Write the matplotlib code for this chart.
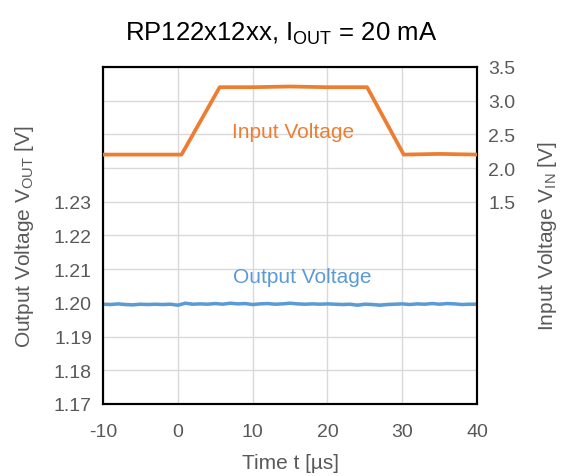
import matplotlib
matplotlib.use("Agg")
import matplotlib.pyplot as plt
import numpy as np

plt.rcParams['font.family'] = ['Liberation Sans', 'DejaVu Sans']
plt.rcParams['mathtext.fontset'] = 'custom'
plt.rcParams['mathtext.rm'] = 'Liberation Sans'
plt.rcParams['mathtext.it'] = 'Liberation Sans:italic'
plt.rcParams['mathtext.default'] = 'regular'

# Input voltage (right axis)
t_in = [-10, -5, 0.5, 5.6, 10, 15, 20, 25.3, 30.2, 35, 40]
v_in = [2.20, 2.20, 2.20, 3.20, 3.20, 3.21, 3.20, 3.20, 2.20, 2.21, 2.20]

# Output voltage (left axis)
t_out = [-10, -9, -8, -7, -6, -5, -4, -3, -2, -1, 0, 1, 2, 3, 4, 5, 6, 7, 8, 9,
         10, 11, 12, 13, 14, 15, 16, 17, 18, 19, 20, 21, 22, 23, 24, 25, 26, 27,
         28, 29, 30, 31, 32, 33, 34, 35, 36, 37, 38, 39, 40]
v_out = [1.1996, 1.1995, 1.1997, 1.1995, 1.1994, 1.1996, 1.1995, 1.1996, 1.1995, 1.1996,
         1.1993, 1.1999, 1.1996, 1.1997, 1.1996, 1.1998, 1.1996, 1.1999, 1.1997, 1.1998,
         1.1995, 1.1997, 1.1998, 1.1996, 1.1997, 1.1999, 1.1997, 1.1996, 1.1997, 1.1996,
         1.1997, 1.1996, 1.1995, 1.1996, 1.1993, 1.1996, 1.1995, 1.1993, 1.1995, 1.1996,
         1.1997, 1.1995, 1.1997, 1.1996, 1.1998, 1.1996, 1.1998, 1.1997, 1.1995, 1.1996,
         1.1996]

left_ticks = [1.17, 1.18, 1.19, 1.20, 1.21, 1.22, 1.23]
right_ticks = [1.5, 2.0, 2.5, 3.0, 3.5]
x_ticks = [-10, 0, 10, 20, 30, 40]

orange = '#ED7D31'
blue = '#5B9BD5'
gray = '#595959'

fig = plt.figure(figsize=(5.62, 4.77), dpi=100)
ax = fig.add_axes([0.1833, 0.151, 0.6655, 0.7065])
ax2 = ax.twinx()

ax.set_xlim(-10, 40)
ax.set_ylim(1.17, 1.27)
ax2.set_ylim(-1.5, 3.5)

for x in x_ticks:
    ax.axvline(x, color='#D9D9D9', lw=1.0, zorder=0)
for y in np.arange(1.17, 1.2701, 0.01):
    ax.axhline(y, color='#D9D9D9', lw=1.0, zorder=0)

ax.plot(t_out, v_out, color=blue, lw=2.5, zorder=3)
ax2.plot(t_in, v_in, color=orange, lw=2.7, zorder=3)

ax.set_xticks(x_ticks)
ax.set_xticklabels([f"{v:d}" for v in x_ticks])
ax.set_yticks(left_ticks)
ax.set_yticklabels([f"{v:.2f}" for v in left_ticks])
ax2.set_yticks(right_ticks)
ax2.set_yticklabels([f"{v:.1f}" for v in right_ticks])

for a in (ax, ax2):
    a.tick_params(length=0, labelsize=14, labelcolor=gray, pad=8)
    for s in a.spines.values():
        s.set_color('black')
        s.set_linewidth(1.5)
ax.tick_params(axis='x', pad=14)

ax.set_xlabel('Time t [µs]', fontsize=15, color=gray, labelpad=9)
ax.set_ylabel(r'Output Voltage V$_{OUT}$ [V]', fontsize=15, color=gray, labelpad=13)
ax2.set_ylabel(r'Input Voltage V$_{IN}$ [V]', fontsize=15, color=gray, labelpad=15, rotation=90)

ax2.text(15.4, 2.545, 'Input Voltage', color=orange, fontsize=15, ha='center', va='center')
ax.text(16.6, 1.2077, 'Output Voltage', color=blue, fontsize=15, ha='center', va='center')

fig.text(0.5, 0.928, r'RP122x12xx, I$_{OUT}$ = 20 mA', ha='center', va='center', fontsize=18.5, color='black')

fig.savefig('out.png', dpi=100)
